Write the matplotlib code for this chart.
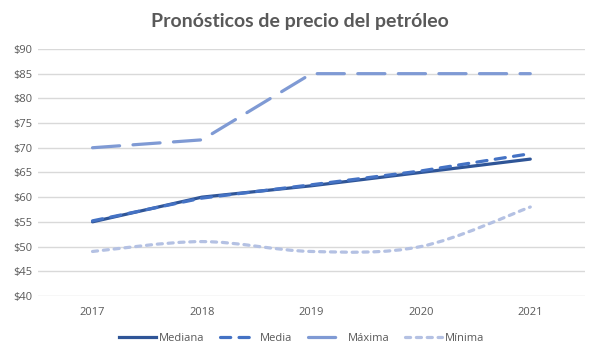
import numpy as np
import matplotlib.pyplot as plt
from matplotlib.path import Path
from matplotlib.patches import PathPatch
from matplotlib.lines import Line2D

years = ["2017", "2018", "2019", "2020", "2021"]
mediana = [55.0, 60.0, 62.3, 65.0, 67.7]
media = [55.2, 59.8, 62.5, 65.3, 68.8]
maxima = [70.0, 71.6, 85.0, 85.0, 85.0]
minima = [49.0, 51.0, 49.0, 50.0, 58.0]
yticks = [40, 45, 50, 55, 60, 65, 70, 75, 80, 85, 90]

plt.rcParams['font.family'] = ['Open Sans', 'DejaVu Sans']
grey = "#595959"

fig = plt.figure(figsize=(6, 3.6), dpi=100)
ax = fig.add_axes([0.063, 0.178, 0.912, 0.686])

x = np.arange(len(years))

c_med, c_mean, c_max, c_min = "#2F5597", "#4472C4", "#7F9AD4", "#B4C1E3"
lw = 2.3

ax.plot(x, mediana, color=c_med, lw=lw, solid_capstyle='round', zorder=4)
ax.plot(x, media, color=c_mean, lw=lw, dashes=(3.2, 2.6), dash_capstyle='round', zorder=5)
ax.plot(x, maxima, color=c_max, lw=lw, dashes=(8.5, 4.2), dash_capstyle='round', zorder=3)

# smoothed line (Excel style bezier) for the minimum series
pts = np.column_stack([x, minima]).astype(float)
verts = [pts[0]]
codes = [Path.MOVETO]
for i in range(len(pts) - 1):
    p0 = pts[max(i - 1, 0)]
    p1 = pts[i]
    p2 = pts[i + 1]
    p3 = pts[min(i + 2, len(pts) - 1)]
    verts += [p1 + (p2 - p0) / 6, p2 - (p3 - p1) / 6, p2]
    codes += [Path.CURVE4] * 3
ax.add_patch(PathPatch(Path(verts, codes), fill=False, edgecolor=c_min, lw=lw,
                       linestyle=(0, (1.6, 1.8)), capstyle='round', zorder=2))

ax.set_xlim(-0.5, len(years) - 0.5)
ax.set_ylim(40, 90)
ax.set_xticks(x)
ax.set_xticklabels(years)
ax.set_yticks(yticks)
ax.set_yticklabels(["$%d" % v for v in yticks])
ax.tick_params(length=0, labelsize=8, colors=grey, pad=8)
ax.tick_params(axis='y', pad=4)
ax.grid(axis='y', color="#D9D9D9", lw=1)
ax.set_axisbelow(True)
for s in ax.spines.values():
    s.set_visible(False)

fig.text(0.5, 0.94, "Pronósticos de precio del petróleo", ha='center', va='center',
         fontsize=14, color=grey, fontweight='bold', family=['Lato', 'DejaVu Sans'])

handles = [
    Line2D([], [], color=c_med, lw=lw),
    Line2D([], [], color=c_mean, lw=lw, dashes=(3.2, 2.6), dash_capstyle='round'),
    Line2D([], [], color=c_max, lw=lw, dashes=(8.5, 4.2), dash_capstyle='round'),
    Line2D([], [], color=c_min, lw=lw, dashes=(1.6, 1.8), dash_capstyle='round'),
]
leg = fig.legend(handles, ["Mediana", "Media", "Máxima", "Mínima"], loc='center',
                 bbox_to_anchor=(0.503, 0.06), ncol=4, frameon=False, fontsize=8,
                 handlelength=3.3, handletextpad=0.3, columnspacing=1.4)
for t in leg.get_texts():
    t.set_color(grey)

fig.savefig("out.png", dpi=100)
